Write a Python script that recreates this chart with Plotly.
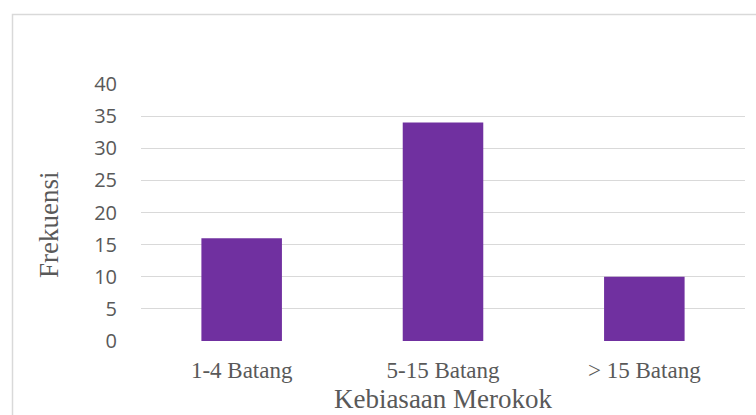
import plotly.graph_objects as go

# Smoking-habit frequency data
categories = ["1-4 Batang", "5-15 Batang", "> 15 Batang"]
frequencies = [16, 34, 10]
y_ticks = [0, 5, 10, 15, 20, 25, 30, 35, 40]

W, H = 756, 415
ml, mr, mt, mb = 141, 11, 84, 74
pw, ph = W - ml - mr, H - mt - mb

def px_x(p):
    return (p - ml) / pw

def px_y(p):
    return (H - mb - p) / ph

fig = go.Figure(
    go.Bar(
        x=categories,
        y=frequencies,
        marker=dict(color="#7030A0", line=dict(width=0)),
        width=0.4,
    )
)

fig.update_layout(
    width=W,
    height=H,
    margin=dict(l=ml, r=mr, t=mt, b=mb),
    paper_bgcolor="white",
    plot_bgcolor="white",
    showlegend=False,
    xaxis=dict(
        automargin=False,
        showgrid=False,
        zeroline=False,
        showline=False,
        ticks="outside",
        ticklen=8,
        tickcolor="rgba(0,0,0,0)",
        tickfont=dict(family="Liberation Serif", size=23, color="#595959"),
        title=dict(text="Kebiasaan Merokok", standoff=7,
                   font=dict(family="Liberation Serif", size=27, color="#595959")),
    ),
    yaxis=dict(
        automargin=False,
        range=[0, 40],
        tickvals=y_ticks,
        showgrid=True,
        gridcolor="#d9d9d9",
        gridwidth=1.3,
        zeroline=False,
        showline=False,
        ticks="outside",
        ticklen=19,
        tickcolor="rgba(0,0,0,0)",
        tickfont=dict(family="Open Sans", size=20, color="#595959"),
    ),
    # vertical axis title, set slightly below the plot-area middle
    annotations=[
        dict(text="Frekuensi", textangle=-90, showarrow=False,
             xref="paper", yref="paper", x=px_x(49), y=px_y(225),
             xanchor="center", yanchor="middle",
             font=dict(family="Liberation Serif", size=27, color="#595959")),
    ],
    shapes=[
        dict(type="rect", xref="paper", yref="paper",
             x0=px_x(12.5), x1=px_x(762), y0=px_y(425), y1=px_y(14.5),
             line=dict(color="#d9d9d9", width=1.5), fillcolor="rgba(0,0,0,0)",
             layer="below"),
    ],
)

fig.write_html("out.html")
